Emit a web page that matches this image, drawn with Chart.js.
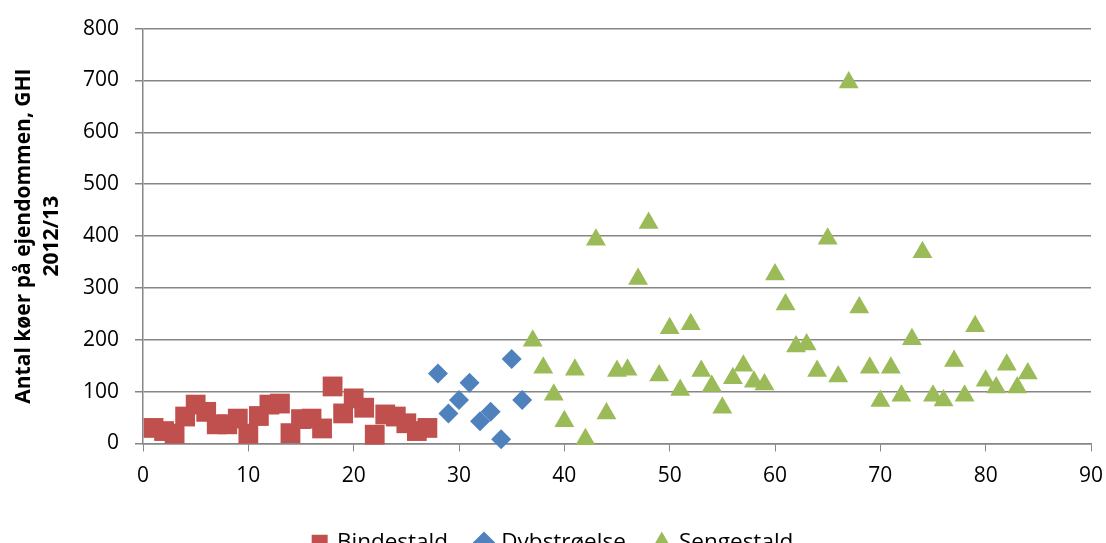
<!DOCTYPE html>
<html>
<head>
<meta charset="utf-8">
<script src="https://cdn.jsdelivr.net/npm/chart.js@4.4.0/dist/chart.umd.min.js"></script>
<style>
    html, body { margin: 0; padding: 0; background: #fff; overflow: hidden; }
    #wrap { width: 1106px; height: 564px; position: relative; }
</style>
</head>
<body>
<div id="wrap"><canvas id="chart"></canvas></div>
<script>
// Bindestald
const bindeX = [1, 2, 3, 4, 5, 6, 7, 8, 9, 10, 11, 12, 13, 14, 15, 16, 17, 18, 19, 20, 21, 22, 23, 24, 25, 26, 27];
const bindeY = [30, 24, 19, 52, 75, 61, 37, 37, 48, 19, 53, 75, 77, 20, 47, 48, 29, 110, 58, 87, 69, 17, 56, 52, 39, 24, 30];

// Dybstrøelse
const dybX = [28, 29, 30, 31, 32, 33, 34, 35, 36];
const dybY = [135, 58, 84, 117, 43, 61, 8, 163, 84];

// Sengestald
const sengX = [37, 38, 39, 40, 41, 42, 43, 44, 45, 46, 47, 48, 49, 50, 51, 52, 53, 54, 55, 56, 57, 58, 59, 60,
               61, 62, 63, 64, 65, 66, 67, 68, 69, 70, 71, 72, 73, 74, 75, 76, 77, 78, 79, 80, 81, 82, 83, 84];
const sengY = [198, 146, 94, 43, 142, 8, 393, 58, 140, 142, 317, 425, 131, 222, 103, 230, 140, 111, 69, 126, 150, 119, 114, 326,
               268, 187, 191, 140, 395, 129, 696, 262, 146, 82, 146, 92, 201, 369, 92, 83, 159, 92, 226, 121, 108, 152, 108, 135];

const yTitel = ['Antal køer på ejendommen, GHI', '2012/13'];

const farver = { rod: '#C0504D', bla: '#4F81BD', gron: '#9BBB59', gitter: '#868686' };

function punkter(xs, ys) {
    return xs.map((x, i) => ({ x: x, y: ys[i] }));
}

const ctx = document.getElementById('chart').getContext('2d');

new Chart(ctx, {
    type: 'scatter',
    data: {
        datasets: [
            {
                label: 'Bindestald',
                data: punkter(bindeX, bindeY),
                pointStyle: 'rect',
                pointRadius: 14,
                backgroundColor: farver.rod,
                borderColor: farver.rod,
                borderWidth: 0,
                clip: false
            },
            {
                label: 'Dybstrøelse',
                data: punkter(dybX, dybY),
                pointStyle: 'rectRot',
                pointRadius: 10,
                backgroundColor: farver.bla,
                borderColor: farver.bla,
                borderWidth: 0,
                clip: false
            },
            {
                label: 'Sengestald',
                data: punkter(sengX, sengY),
                pointStyle: 'triangle',
                pointRadius: 11.5,
                backgroundColor: farver.gron,
                borderColor: farver.gron,
                borderWidth: 0,
                clip: false
            }
        ]
    },
    options: {
        responsive: true,
        maintainAspectRatio: false,
        animation: false,
        layout: {
            // venstre padding skubber legenden lidt mod højre
            padding: { top: 27, right: 15, left: 16, bottom: 0 }
        },
        plugins: {
            tooltip: { enabled: false },
            legend: {
                display: true,
                position: 'bottom',
                labels: {
                    usePointStyle: true,
                    boxWidth: 12,
                    boxHeight: 16,
                    padding: 30,
                    color: '#000',
                    font: { family: 'Open Sans', size: 22.5 }
                }
            }
        },
        scales: {
            x: {
                type: 'linear',
                min: 0,
                max: 90,
                ticks: {
                    stepSize: 10,
                    color: '#000',
                    padding: 12,
                    font: { family: 'Open Sans', size: 21 }
                },
                grid: {
                    drawOnChartArea: false,
                    drawTicks: true,
                    tickLength: 8,
                    color: farver.gitter
                },
                border: { color: farver.gitter, width: 1.5 },
                afterFit: scale => {
                    scale.height = 58;
                    scale.paddingLeft = 0;
                    scale.paddingRight = 0;
                }
            },
            y: {
                type: 'linear',
                min: 0,
                max: 800,
                ticks: {
                    stepSize: 100,
                    color: '#000',
                    padding: 16,
                    font: { family: 'Open Sans', size: 21 }
                },
                title: {
                    display: true,
                    text: yTitel,
                    color: '#000',
                    padding: { top: -6, bottom: 0 },
                    font: { family: 'Open Sans', size: 21, weight: 'bold', lineHeight: 1.33 }
                },
                grid: {
                    color: farver.gitter,
                    lineWidth: 1.5,
                    tickLength: 8
                },
                border: { color: farver.gitter, width: 1.5 },
                afterFit: scale => { scale.width = 127; }
            }
        }
    }
});
</script>
</body>
</html>
